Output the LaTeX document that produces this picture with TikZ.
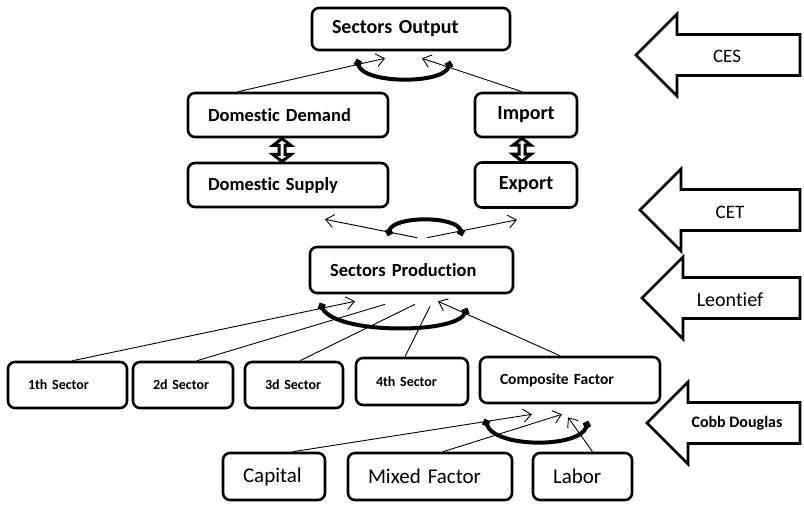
\documentclass[tikz,border=0pt]{standalone}
\usepackage{fontspec}
\setmainfont{Carlito}[Ligatures=NoCommon]
\usetikzlibrary{arrows.meta, calc}
\newcommand{\fsz}[1]{\fontsize{#1}{#1}\selectfont}

\begin{document}
\begin{tikzpicture}[x=1pt, y=-1pt,
    box/.style={draw, rounded corners=7pt, line width=2.6pt, inner xsep=20pt, inner ysep=0pt, align=left},
    link/.style={line width=0.9pt, -{Straight Barb[length=8pt, width=13pt]}},
    hook/.style={line width=4pt, {Circle[length=7.5pt]}-{Circle[length=7.5pt]}},
    pics/bigarrow/.style={code={
        \draw[line width=2.8pt, fill=white, line join=miter]
            (0,0) -- (41,-41) -- (41,-20.5) -- (#1,-20.5) -- (#1,20.5) -- (41,20.5) -- (41,41) -- cycle;}},
    pics/dblarrow/.style={code={
        \draw[line width=3pt, fill=white, line join=miter]
            (0,-11.5) -- (9,-4.5) -- (3,-4.5) -- (3,4.5) -- (9,4.5) -- (0,11.5)
            -- (-9,4.5) -- (-3,4.5) -- (-3,-4.5) -- (-9,-4.5) -- cycle;}}]
    \useasboundingbox (0,0) rectangle (804,505);

    % boxes
    \node[box, text width=158pt, minimum height=42pt, font=\bfseries\fsz{20}] (out) at (411,29) {Sectors Output};
    \node[box, text width=160pt, minimum height=44pt, font=\bfseries\fsz{18.5}] (dd) at (288,115) {Domestic Demand};
    \node[box, text width=62pt, minimum height=44pt, align=center, font=\bfseries\fsz{20}] (imp) at (526,115) {Import};
    \node[box, text width=160pt, minimum height=44pt, font=\bfseries\fsz{18.5}] (ds) at (288,185) {Domestic Supply};
    \node[box, text width=62pt, minimum height=45pt, align=center, font=\bfseries\fsz{20}] (exp) at (526,185) {Export};
    \node[box, text width=163pt, minimum height=46pt, font=\bfseries\fsz{18.5}] (prod) at (411.5,270) {Sectors Production};
    \node[box, text width=79pt, minimum height=46pt, font=\bfseries\fsz{14}] (s1) at (67.5,385) {1th Sector};
    \node[box, text width=60pt, minimum height=46pt, font=\bfseries\fsz{14}] (s2) at (183,385) {2d Sector};
    \node[box, text width=58pt, minimum height=46pt, font=\bfseries\fsz{14}] (s3) at (294,385) {3d Sector};
    \node[box, text width=72pt, minimum height=47pt, font=\bfseries\fsz{14}] (s4) at (412,381.5) {4th Sector};
    \node[box, text width=140pt, minimum height=46pt, font=\bfseries\fsz{15.5}] (comp) at (570,380) {Composite Factor};
    \node[box, text width=62pt, minimum height=47pt, font=\fsz{21}] (cap) at (274,476.5) {Capital};
    \node[box, text width=124pt, minimum height=47pt, font=\fsz{21}] (mix) at (430,476.5) {Mixed Factor};
    \node[box, text width=59pt, minimum height=47pt, font=\fsz{21}] (lab) at (582.5,476.5) {Labor};

    % CES
    \draw[link] ($(dd.north)+(-50,0)$) -- ($(out.south)+(-26,7)$);
    \draw[link] ($(imp.north)+(-4,0)$) -- ($(out.south)+(11,7)$);
    \draw[hook] ($(out.south)+(-54,8)$) .. controls ($(out.south)+(-48,33)$) and ($(out.south)+(33,33)$) .. ($(out.south)+(39,10)$);

    \pic at ($(dd.south)!0.5!(ds.north)+(-6,0)$) {dblarrow};
    \pic at ($(imp.south)!0.5!(exp.north)+(-4,0)$) {dblarrow};

    % CET
    \draw[link] ($(prod.north)+(5.5,-8)$) -- ($(ds.south)+(37,11)$);
    \draw[link] ($(prod.north)+(15.5,-8)$) -- ($(exp.south)+(-9,11)$);
    \draw[hook] ($(prod.north)+(-23.5,-10)$) .. controls ($(prod.north)+(-18,-30)$) and ($(prod.north)+(45,-30)$) .. ($(prod.north)+(50.5,-10)$);

    % Leontief
    \draw[link] ($(s1.north)+(5,0)$) -- ($(prod.south)+(-56.5,7)$);
    \draw[line width=0.9pt] ($(s2.north)+(14,0)$) -- ($(prod.south)+(-26.5,10)$);
    \draw[line width=0.9pt] ($(s3.north)+(6,0)$) -- ($(prod.south)+(3.5,10)$);
    \draw[line width=0.9pt] ($(s4.north)+(-7,0)$) -- ($(prod.south)+(18.5,12)$);
    \draw[link] ($(comp.north)+(-10,0)$) -- ($(prod.south)+(26.5,7)$);
    \draw[hook] ($(prod.south)+(-91.5,9)$) .. controls ($(prod.south)+(-76,40)$) and ($(prod.south)+(44,40)$) .. ($(prod.south)+(55.5,14)$);

    % Cobb Douglas
    \draw[link] ($(cap.north)+(19,0)$) -- ($(comp.south)+(-38,10)$);
    \draw[link] ($(mix.north)+(13,0)$) -- ($(comp.south)+(-8,10)$);
    \draw[link] ($(lab.north)+(10,0)$) -- ($(comp.south)+(-2,13)$);
    \draw[hook] ($(comp.south)+(-85,15)$) .. controls ($(comp.south)+(-75,44)$) and ($(comp.south)+(10,44)$) .. ($(comp.south)+(18,17)$);

    % function arrows on the right
    \pic at (636,55) {bigarrow=164};
    \pic at (640,210) {bigarrow=160};
    \pic at (642,298) {bigarrow=158};
    \pic at (647,423) {bigarrow=153};
    \node[font=\fsz{19}] (ces) at (727,56) {CES};
    \node[font=\fsz{19}] (cet) at (730,212) {CET};
    \node[font=\fsz{20}] (leo) at (730,300) {Leontief};
    \node[font=\bfseries\fsz{16}] (cobb) at (737,423) {Cobb Douglas};
\end{tikzpicture}
\end{document}
